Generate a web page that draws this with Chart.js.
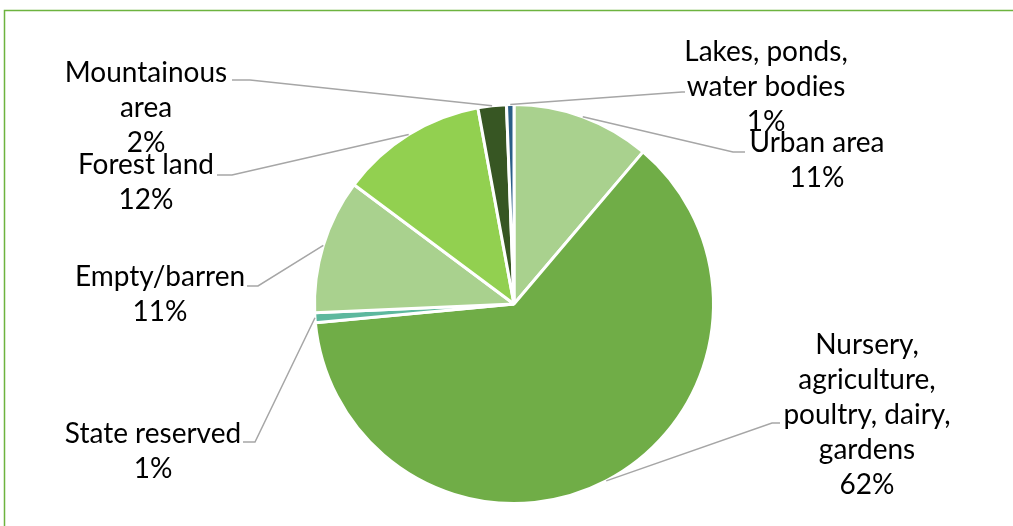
<!DOCTYPE html>
<html>
<head>
<meta charset="utf-8">
<script src="https://cdn.jsdelivr.net/npm/chart.js@4"></script>
<style>
html,body{margin:0;padding:0;background:#fff;}
#wrap{width:1013px;height:526px;position:relative;}
</style>
</head>
<body>
<div id="wrap"><canvas id="c" width="1013" height="526"></canvas></div>
<script>
// ---- data ----
const categories = ['Urban area', 'Nursery, agriculture, poultry, dairy, gardens', 'State reserved', 'Empty/barren', 'Forest land', 'Mountainous area', 'Lakes, ponds, water bodies'];
const labelLines = [
  ['Urban area'],
  ['Nursery,', 'agriculture,', 'poultry, dairy,', 'gardens'],
  ['State reserved'],
  ['Empty/barren'],
  ['Forest land'],
  ['Mountainous', 'area'],
  ['Lakes, ponds,', 'water bodies']
];
const shares = [11.2, 62.3, 0.8, 10.9, 11.9, 2.3, 0.6];
const colors = ['#A9D18E', '#70AD47', '#5DB89E', '#A9D18E', '#92D050', '#375623', '#2A5F88'];

// ---- label layout (offsets from pie centre, px) ----
const labelLayout = [
  {text:[303,-161], elbow:[219,-152], end:[231,-152]},
  {text:[353,41],   elbow:[258,119],  end:[266,119]},
  {text:[-361,130], elbow:[-259,138], end:[-271,138]},
  {text:[-354,-27], elbow:[-256,-18], end:[-267,-18]},
  {text:[-368,-139],elbow:[-282,-129],end:[-297,-129]},
  {text:[-368,-231],elbow:[-264,-224],end:[-282,-224]},
  {text:[252,-252], elbow:[168,-212], end:[171,-212]}
];
const FONT = "28px Lato, 'Open Sans', sans-serif";
const LINE_H = 35;

const frame = {
  id:'frame',
  beforeDraw(chart){
    const ctx = chart.ctx;
    ctx.save();
    ctx.strokeStyle = '#6DB33F';
    ctx.lineWidth = 1.5;
    ctx.strokeRect(4.5, 10.5, 1100, 600);
    ctx.restore();
  }
};

const labels = {
  id:'sliceLabels',
  afterDatasetsDraw(chart){
    const ctx = chart.ctx;
    const meta = chart.getDatasetMeta(0);
    const total = shares.reduce((a,b)=>a+b,0);
    ctx.save();
    meta.data.forEach((arc, i) => {
      const p = arc.getProps(['x','y','startAngle','endAngle','outerRadius'], true);
      const mid = (p.startAngle + p.endAngle)/2;
      const sx = p.x + Math.cos(mid)*p.outerRadius;
      const sy = p.y + Math.sin(mid)*p.outerRadius;
      const L = labelLayout[i];
      ctx.strokeStyle = '#A6A6A6';
      ctx.lineWidth = 1.5;
      ctx.beginPath();
      ctx.moveTo(sx, sy);
      ctx.lineTo(p.x + L.elbow[0], p.y + L.elbow[1]);
      ctx.lineTo(p.x + L.end[0], p.y + L.end[1]);
      ctx.stroke();
      const lines = labelLines[i].concat([Math.round(shares[i]/total*100) + '%']);
      ctx.fillStyle = '#000';
      ctx.font = FONT;
      ctx.textAlign = 'center';
      ctx.textBaseline = 'middle';
      lines.forEach((t, k) => {
        ctx.fillText(t, p.x + L.text[0], p.y + L.text[1] + k*LINE_H);
      });
    });
    ctx.restore();
  }
};

new Chart(document.getElementById('c'), {
  type: 'pie',
  data: {
    labels: categories,
    datasets: [{
      data: shares,
      backgroundColor: colors,
      borderColor: '#ffffff',
      borderWidth: 3
    }]
  },
  options: {
    responsive: false,
    animation: false,
    devicePixelRatio: 1,
    layout: { padding: { left: 200, right: 185, top: 103, bottom: 21 } },
    plugins: { legend: { display: false }, tooltip: { enabled: false } }
  },
  plugins: [frame, labels]
});
</script>
</body>
</html>
